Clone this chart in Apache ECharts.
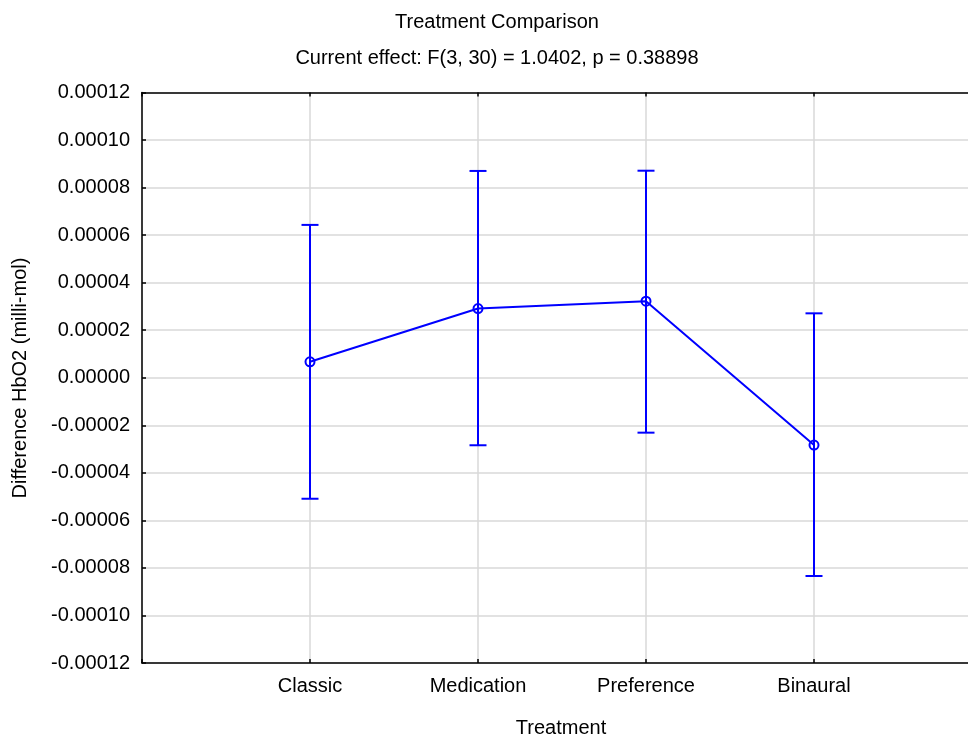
<!DOCTYPE html>
<html>
<head>
<meta charset="utf-8">
<script src="https://cdn.jsdelivr.net/npm/echarts@6/dist/echarts.min.js"></script>
<style>html,body{margin:0;padding:0;background:#fff}#c{width:968px;height:738px}</style>
</head>
<body>
<div id="c"></div>
<script>
const categories = ['Classic', 'Medication', 'Preference', 'Binaural'];
const means = [0.0000067, 0.0000291, 0.0000322, -0.0000283];
const upper = [0.0000643, 0.0000870, 0.0000871, 0.0000271];
const lower = [-0.0000509, -0.0000284, -0.0000231, -0.0000834];
const yTicks = { min: -0.00012, max: 0.00012, step: 0.00002 };

const FONT = 'Liberation Sans, Arial, sans-serif';
const BLUE = '#0000ff';
const axisCats = [''].concat(categories).concat(['']);

const chart = echarts.init(document.getElementById('c'), null, { renderer: 'canvas' });
const option = {
  backgroundColor: '#ffffff',
  animation: false,
  graphic: [
    { type: 'text', x: 497, y: 22,
      style: { text: 'Treatment Comparison', fontFamily: FONT, fontSize: 20, fill: '#000',
        align: 'center', verticalAlign: 'middle' } },
    { type: 'text', x: 497, y: 58,
      style: { text: 'Current effect: F(3, 30) = 1.0402, p = 0.38898', fontFamily: FONT, fontSize: 20, fill: '#000',
        align: 'center', verticalAlign: 'middle' } },
    { type: 'text', x: 20, y: 378, rotation: Math.PI / 2,
      style: { text: 'Difference HbO2 (milli-mol)', fontFamily: FONT, fontSize: 20, fill: '#000',
        align: 'center', verticalAlign: 'middle' } },
    { type: 'text', x: 561, y: 728,
      style: { text: 'Treatment', fontFamily: FONT, fontSize: 20, fill: '#000',
        align: 'center', verticalAlign: 'middle' } }
  ],
  grid: { left: 142, top: 92.5, bottom: 75, right: -14, containLabel: false, outerBoundsMode: 'none' },
  xAxis: [
    { type: 'category', data: axisCats, boundaryGap: false, position: 'bottom',
      axisLine: { onZero: false, lineStyle: { color: '#000', width: 1.5 } },
      axisTick: { inside: true, length: 4, interval: 0, lineStyle: { color: '#000', width: 1.5 } },
      axisLabel: { interval: 0, fontFamily: FONT, fontSize: 20, color: '#000', margin: 13 },
      splitLine: { show: true, interval: 0, lineStyle: { color: '#d9d9d9', width: 1.5 } } },
    { type: 'category', data: axisCats, boundaryGap: false, position: 'top',
      axisLine: { onZero: false, lineStyle: { color: '#000', width: 1.5 } },
      axisTick: { inside: true, length: 4, interval: 0, lineStyle: { color: '#000', width: 1.5 } },
      axisLabel: { show: false }, splitLine: { show: false } }
  ],
  yAxis: {
    type: 'value', min: yTicks.min, max: yTicks.max, interval: yTicks.step,
    axisLine: { show: true, onZero: false, lineStyle: { color: '#000', width: 1.5 } },
    axisTick: { show: true, inside: true, length: 4, lineStyle: { color: '#000', width: 1.5 } },
    axisLabel: { fontFamily: FONT, fontSize: 20, color: '#000', margin: 12,
      formatter: v => (Math.abs(v) < 1e-12 ? 0 : v).toFixed(5) },
    splitLine: { show: true, lineStyle: { color: '#d9d9d9', width: 1.5 } }
  },
  series: [
    {
      type: 'custom', xAxisIndex: 0, z: 3,
      data: categories.map((c, i) => [i + 1, lower[i], upper[i]]),
      renderItem: function (params, api) {
        const x = api.value(0);
        const lo = api.coord([x, api.value(1)]);
        const hi = api.coord([x, api.value(2)]);
        const cap = 8.5;
        const st = { stroke: BLUE, lineWidth: 2 };
        return { type: 'group', children: [
          { type: 'line', shape: { x1: lo[0], y1: lo[1], x2: hi[0], y2: hi[1] }, style: st },
          { type: 'line', shape: { x1: hi[0] - cap, y1: hi[1], x2: hi[0] + cap, y2: hi[1] }, style: st },
          { type: 'line', shape: { x1: lo[0] - cap, y1: lo[1], x2: lo[0] + cap, y2: lo[1] }, style: st }
        ]};
      }
    },
    {
      type: 'line', xAxisIndex: 0, z: 4,
      data: categories.map((c, i) => [i + 1, means[i]]),
      symbol: 'circle', symbolSize: 9, showAllSymbol: true,
      lineStyle: { color: BLUE, width: 2 },
      itemStyle: { color: 'rgba(255,255,255,0)', borderColor: BLUE, borderWidth: 2 }
    }
  ]
};
chart.setOption(option);
</script>
</body>
</html>
